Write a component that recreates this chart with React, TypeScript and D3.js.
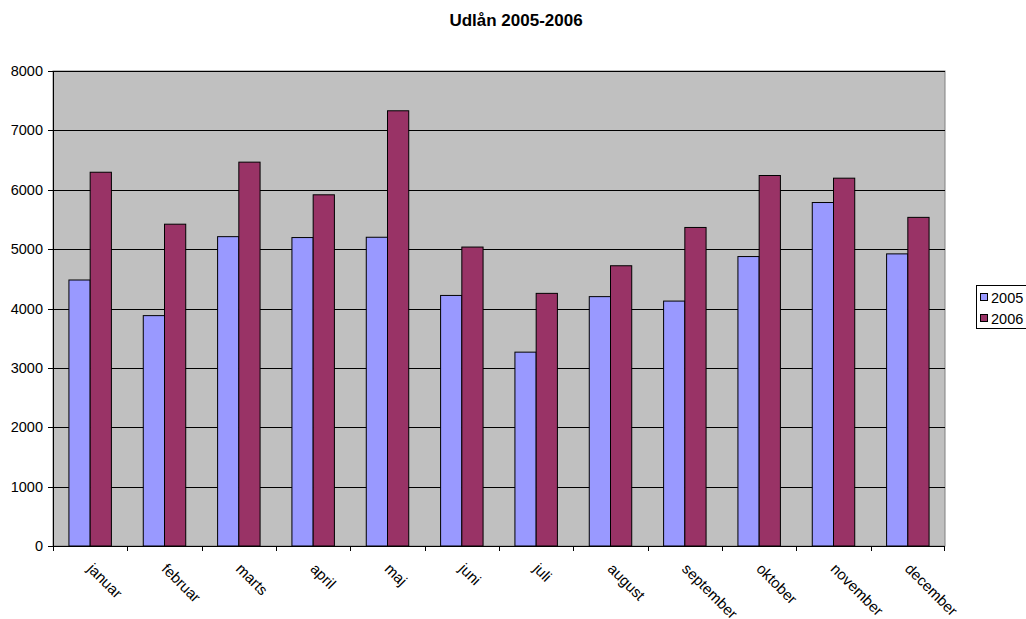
import React from "react";
import * as d3 from "d3";

const months = ["januar", "februar", "marts", "april", "maj", "juni", "juli", "august", "september", "oktober", "november", "december"];
const series2005 = [4480, 3880, 5210, 5195, 5200, 4220, 3265, 4200, 4125, 4875, 5785, 4920];
const series2006 = [6295, 5420, 6465, 5915, 7330, 5035, 4255, 4720, 5365, 6240, 6195, 5535];
const yTicks = [0, 1000, 2000, 3000, 4000, 5000, 6000, 7000, 8000];
const seriesNames = ["2005", "2006"];
const colors = ["#9999FF", "#993366"];

export default function App() {
  const W = 1026, H = 619;
  const left = 53, right = 945, top = 71, bottom = 546;
  const x = d3.scaleBand<string>().domain(months).range([left, right]).paddingInner(0).paddingOuter(0);
  const y = d3.scaleLinear().domain([0, 8000]).range([bottom, top]);
  const bw = x.bandwidth();
  const barW = bw / 3.5;
  const inner = d3.scaleBand<string>().domain(seriesNames).range([bw * 0.75 / 3.5, bw - bw * 0.75 / 3.5]).padding(0);
  const data = [series2005, series2006];
  const font = "Arial, 'Liberation Sans', sans-serif";
  const fs = 14.5;
  return (
    <div style={{ position: "absolute", left: 0, top: 0 }}>
      <svg width={W} height={H} style={{ display: "block", fontFamily: font }}>
        <rect x={0} y={0} width={W} height={H} fill="#ffffff" />
        <text x={516} y={26} textAnchor="middle" fontSize={17} fontWeight="bold">Udlån 2005-2006</text>
        <rect x={left} y={top} width={right - left} height={bottom - top} fill="#C0C0C0" stroke="#808080" strokeWidth={1} />
        {yTicks.filter(t => t > 0).map(t => (
          <line key={t} x1={left} x2={right} y1={Math.round(y(t)) + 0.5} y2={Math.round(y(t)) + 0.5} stroke="#000" strokeWidth={1} />
        ))}
        {months.map((m, i) => (
          <g key={m}>
            {data.map((s, j) => {
              const v = s[i];
              const bx = (x(m) as number) + (inner(seriesNames[j]) as number);
              return (
                <rect key={j} x={bx} y={y(v)} width={barW} height={bottom - y(v)} fill={colors[j]} stroke="#000" strokeWidth={1} />
              );
            })}
          </g>
        ))}
        <line x1={left + 0.5} x2={left + 0.5} y1={top} y2={bottom} stroke="#000" />
        <line x1={left} x2={right} y1={bottom + 0.5} y2={bottom + 0.5} stroke="#000" />
        {yTicks.map(t => (
          <g key={t}>
            <line x1={left - 5} x2={left} y1={Math.round(y(t)) + 0.5} y2={Math.round(y(t)) + 0.5} stroke="#000" />
            <text x={43} y={y(t)} dy="0.35em" textAnchor="end" fontSize={fs}>{t}</text>
          </g>
        ))}
        {months.map((m, i) => (
          <line key={"t" + i} x1={Math.round(x(m) as number) + 0.5} x2={Math.round(x(m) as number) + 0.5} y1={bottom} y2={bottom + 5} stroke="#000" />
        ))}
        <line x1={right - 0.5} x2={right - 0.5} y1={bottom} y2={bottom + 5} stroke="#000" />
        {months.map(m => {
          const cx = (x(m) as number) + bw / 2;
          return (
            <text key={"l" + m} transform={`translate(${cx},${566}) rotate(45)`} fontSize={15} dy="0.35em">{m}</text>
          );
        })}
        <rect x={976.5} y={285.5} width={60} height={43} fill="#fff" stroke="#000" />
        {seriesNames.map((n, j) => (
          <g key={n}>
            <rect x={980.5} y={293.5 + j * 21} width={7} height={7} fill={colors[j]} stroke="#000" />
            <text x={991} y={297.5 + j * 21} dy="0.35em" fontSize={fs}>{n}</text>
          </g>
        ))}
      </svg>
    </div>
  );
}
